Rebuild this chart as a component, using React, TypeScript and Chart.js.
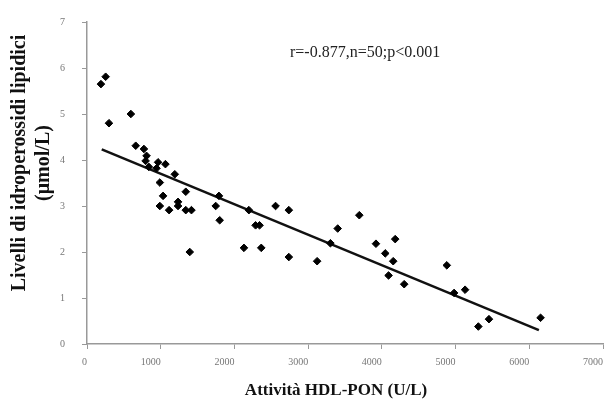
import React, { useEffect, useRef } from "react";
import { Chart, registerables } from "chart.js";

Chart.register(...registerables);

// Scatter data (Attività HDL-PON U/L, idroperossidi µmol/L)
const ponValues = [
  189, 253, 298, 595, 661, 772, 808, 795, 839, 964, 1064, 943, 1191, 988,
  1032, 1340, 988, 1114, 1235, 1235, 1340, 1417, 1394, 1746, 1790, 1800,
  2558, 2738, 2196, 2287, 2341, 2129, 2364, 2738, 3122, 3302, 3401,
  3694, 3920, 4181, 4046, 4154, 4091, 4303, 4881,
  4980, 5129, 5453, 5309, 6153,
];
const lipidValues = [
  5.65, 5.81, 4.8, 5.0, 4.31, 4.24, 4.09, 3.98, 3.85, 3.95, 3.91, 3.82, 3.69, 3.51,
  3.22, 3.31, 3.0, 2.91, 3.09, 3.0, 2.91, 2.91, 2.0, 3.0, 3.22, 2.69,
  3.0, 2.91, 2.91, 2.58, 2.58, 2.09, 2.09, 1.89, 1.8, 2.19, 2.51,
  2.8, 2.18, 2.28, 1.97, 1.8, 1.49, 1.3, 1.71,
  1.11, 1.18, 0.54, 0.38, 0.57,
];
// Regression line end points
const trendX = [200, 6130];
const trendY = [4.23, 0.3];

const xTitle = "Attività HDL-PON (U/L)";
const yTitleLines = ["Livelli di idroperossidi lipidici", "(μmol/L)"];
const statText = "r=-0.877,n=50;p<0.001";

const SERIF = "'Liberation Serif', 'Times New Roman', serif";

export default function App() {
  const ref = useRef<HTMLCanvasElement | null>(null);

  useEffect(() => {
    if (!ref.current) return;
    const textPlugin = {
      id: "customText",
      afterDraw(chart: any) {
        const ctx = chart.ctx;
        ctx.save();
        ctx.fillStyle = "#111";
        ctx.font = `bold 20px ${SERIF}`;
        ctx.textAlign = "center";
        ctx.textBaseline = "middle";
        const cy = 163;
        const xs = [20, 44];
        yTitleLines.forEach((t, i) => {
          ctx.save();
          ctx.translate(xs[i], cy);
          ctx.rotate(-Math.PI / 2);
          ctx.fillText(t, 0, 0);
          ctx.restore();
        });
        ctx.font = `bold 17px ${SERIF}`;
        ctx.fillText(xTitle, 336, 391);
        ctx.font = `16px ${SERIF}`;
        ctx.textAlign = "left";
        ctx.fillStyle = "#222";
        ctx.fillText(statText, 290, 53);
        ctx.restore();
      },
    };

    const chart = new Chart(ref.current, {
      type: "scatter",
      data: {
        datasets: [
          {
            data: ponValues.map((x, i) => ({ x, y: lipidValues[i] })),
            pointStyle: "rectRot",
            pointRadius: 3.8,
            backgroundColor: "#000",
            borderColor: "#000",
            borderWidth: 1,
            order: 1,
          },
          {
            type: "line",
            data: trendX.map((x, i) => ({ x, y: trendY[i] })),
            borderColor: "#111",
            borderWidth: 2.5,
            pointRadius: 0,
            showLine: true,
            fill: false,
            order: 2,
          } as any,
        ],
      },
      options: {
        animation: false,
        responsive: true,
        maintainAspectRatio: false,
        layout: { padding: { left: 0, right: 4, top: 22, bottom: 0 } },
        plugins: { legend: { display: false }, tooltip: { enabled: false } },
        scales: {
          x: {
            type: "linear",
            min: 0,
            max: 7000,
            afterFit(scale: any) {
              scale.height = 61;
              scale.paddingRight = 0;
            },
            ticks: {
              stepSize: 1000,
              align: "end",
              padding: 7,
              color: "#777",
              font: { family: SERIF, size: 10 },
              callback: (v: any) => String(v),
            },
            grid: {
              display: true,
              drawOnChartArea: false,
              drawTicks: true,
              tickLength: 5,
              color: "#999",
            },
            border: { display: true, color: "#999", width: 1.5 },
          },
          y: {
            type: "linear",
            min: 0,
            max: 7,
            afterFit(scale: any) {
              scale.width = 87;
              scale.paddingTop = 0;
              scale.paddingBottom = 0;
            },
            ticks: {
              stepSize: 1,
              padding: 17,
              color: "#777",
              font: { family: SERIF, size: 10 },
              callback: (v: any) => String(v),
            },
            grid: {
              display: true,
              drawOnChartArea: false,
              drawTicks: true,
              tickLength: 5,
              color: "#999",
            },
            border: { display: true, color: "#999", width: 1.5 },
          },
        },
      },
      plugins: [textPlugin],
    });
    return () => chart.destroy();
  }, []);

  return (
    <div style={{ position: "fixed", left: 0, top: 0, width: 608, height: 405, background: "#fff" }}>
      <canvas ref={ref} />
    </div>
  );
}
